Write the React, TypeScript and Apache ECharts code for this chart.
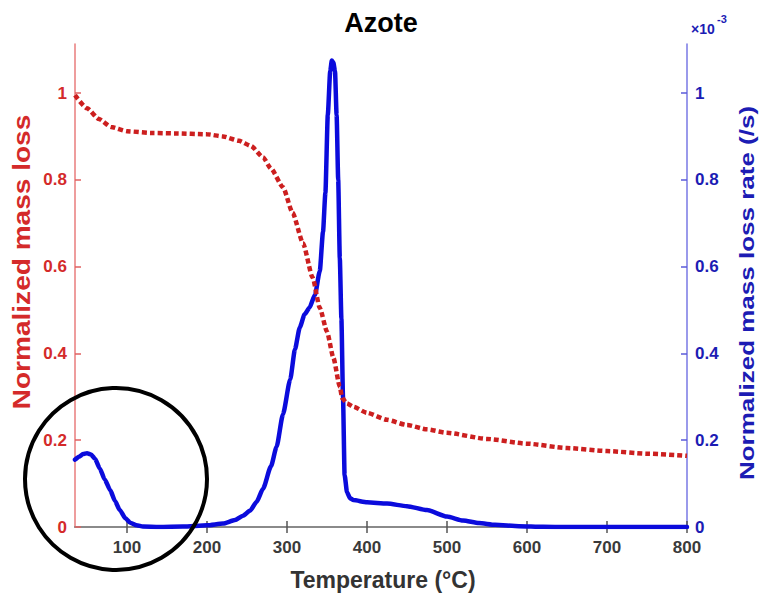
import React, { useEffect, useRef } from "react";
import * as echarts from "echarts";

const xTicks = [100, 200, 300, 400, 500, 600, 700, 800];
const yTicks = [0, 0.2, 0.4, 0.6, 0.8, 1];

const massLossTemp = [35, 50, 65, 80, 100, 130, 160, 200, 220, 240, 255, 270, 280, 295, 307, 320, 332, 341, 350, 358, 366, 369, 375, 383, 400, 425, 450, 475, 500, 550, 600, 650, 700, 750, 800];
const massLoss = [0.995, 0.965, 0.94, 0.922, 0.912, 0.908, 0.907, 0.905, 0.9, 0.89, 0.878, 0.852, 0.826, 0.783, 0.724, 0.654, 0.575, 0.505, 0.45, 0.39, 0.323, 0.297, 0.285, 0.277, 0.263, 0.247, 0.235, 0.225, 0.217, 0.203, 0.192, 0.182, 0.175, 0.169, 0.164];

const rateTemp = [35, 40, 45, 50, 55, 60, 66, 72, 79, 85, 91, 98, 104, 112, 120, 140, 170, 200, 220, 235, 245, 254, 262, 270, 280, 287, 295, 304, 310, 316, 322, 328, 335, 341, 345, 348, 351, 354, 356, 358, 360, 362, 364, 366, 368, 370, 372, 375, 379, 383, 400, 425, 450, 475, 500, 520, 540, 560, 590, 620, 650, 700, 750, 800];
const rate = [0.155, 0.162, 0.168, 0.17, 0.167, 0.157, 0.135, 0.11, 0.085, 0.06, 0.039, 0.02, 0.01, 0.004, 0.001, 0, 0.001, 0.004, 0.008, 0.016, 0.026, 0.038, 0.058, 0.088, 0.14, 0.185, 0.26, 0.34, 0.41, 0.46, 0.49, 0.505, 0.535, 0.59, 0.68, 0.77, 0.95, 1.05, 1.075, 1.07, 1.05, 0.95, 0.8, 0.62, 0.48, 0.3, 0.12, 0.08, 0.066, 0.062, 0.057, 0.054, 0.048, 0.039, 0.024, 0.015, 0.009, 0.005, 0.002, 0.0005, 0, 0, 0, 0];

const FONT = "'Liberation Sans', Arial, Helvetica, sans-serif";
const RED = "#d42a2a";
const RED_LINE = "#cc1f1f";
const BLUE = "#1c1cb4";
const BLUE_LINE = "#0b0bdc";
const GRAY = "#8a8a8a";
const YMAX = 1.113;

export default function App() {
  const ref = useRef<HTMLDivElement>(null);
  useEffect(() => {
    if (!ref.current) return;
    const chart = echarts.init(ref.current, null, { renderer: "svg" });
    const fmt = (v: number) => String(+Number(v).toFixed(1));
    chart.setOption({
      animation: false,
      backgroundColor: "#ffffff",
      grid: { left: 75, right: 72, top: 44, bottom: 66, containLabel: false },
      xAxis: [
        {
          type: "value",
          min: 35,
          max: 800,
          position: "bottom",
          axisLine: { show: true, lineStyle: { color: GRAY, width: 1.5 } },
          axisTick: { show: true, inside: true, length: 6, customValues: xTicks, lineStyle: { color: "#555", width: 1.5 } },
          axisLabel: { customValues: xTicks, margin: 12, color: "#3a3a3a", fontSize: 17, fontWeight: "bold", fontFamily: FONT },
          splitLine: { show: false },
        },
        {
          type: "value",
          min: 35,
          max: 800,
          position: "top",
          axisLine: { show: true, lineStyle: { color: GRAY, width: 2 } },
          axisTick: { show: true, inside: true, length: 6, customValues: xTicks, lineStyle: { color: "#555", width: 1.5 } },
          axisLabel: { show: false },
          splitLine: { show: false },
        },
      ],
      yAxis: [
        {
          type: "value",
          min: 0,
          max: YMAX,
          position: "left",
          axisLine: { show: true, lineStyle: { color: "#e87c7c", width: 1.5 } },
          axisTick: { show: true, inside: true, length: 6, customValues: yTicks, lineStyle: { color: "#e06060", width: 1.5 } },
          axisLabel: { customValues: yTicks, formatter: fmt, margin: 8, color: RED, fontSize: 17, fontWeight: "bold", fontFamily: FONT },
          splitLine: { show: false },
        },
        {
          type: "value",
          min: 0,
          max: YMAX,
          position: "right",
          axisLine: { show: true, lineStyle: { color: "#7878e4", width: 1.5 } },
          axisTick: { show: true, inside: true, length: 6, customValues: yTicks, lineStyle: { color: "#5a5ad8", width: 1.5 } },
          axisLabel: { customValues: yTicks, formatter: fmt, margin: 8, color: BLUE, fontSize: 17, fontWeight: "bold", fontFamily: FONT },
          splitLine: { show: false },
        },
      ],
      series: [
        {
          type: "line",
          name: "Normalized mass loss rate",
          xAxisIndex: 0,
          yAxisIndex: 1,
          data: rateTemp.map((t, i) => [t, rate[i]]),
          showSymbol: false,
          symbol: "none",
          smooth: 0.2,
          smoothMonotone: "x",
          lineStyle: { color: BLUE_LINE, width: 4.5, cap: "round", join: "round" },
          z: 2,
        },
        {
          type: "line",
          name: "Normalized mass loss",
          xAxisIndex: 0,
          yAxisIndex: 0,
          data: massLossTemp.map((t, i) => [t, massLoss[i]]),
          showSymbol: false,
          symbol: "none",
          smooth: 0.2,
          smoothMonotone: "x",
          lineStyle: { color: RED_LINE, width: 4.5, type: [5, 3] },
          z: 3,
        },
      ],
      graphic: [
        {
          type: "text",
          x: 381,
          y: 23,
          z: 10,
          style: { text: "Azote", fontSize: 27, fontWeight: "bold", fontFamily: FONT, fill: "#000", textAlign: "center", textVerticalAlign: "middle", align: "center", verticalAlign: "middle" },
        },
        {
          type: "text",
          x: 383,
          y: 580,
          z: 10,
          style: { text: "Temperature (°C)", fontSize: 23, fontWeight: "bold", fontFamily: FONT, fill: "#333", textAlign: "center", textVerticalAlign: "middle", align: "center", verticalAlign: "middle" },
        },
        {
          type: "text",
          x: 22,
          y: 262,
          rotation: Math.PI / 2,
          scaleX: 1.22,
          z: 10,
          style: { text: "Normalized mass loss", fontSize: 23, fontWeight: "bold", fontFamily: FONT, fill: RED, textAlign: "center", textVerticalAlign: "middle", align: "center", verticalAlign: "middle" },
        },
        {
          type: "text",
          x: 747,
          y: 293,
          rotation: Math.PI / 2,
          scaleX: 1.3,
          z: 10,
          style: { text: "Normalized mass loss rate (/s)", fontSize: 20, fontWeight: "bold", fontFamily: FONT, fill: BLUE, textAlign: "center", textVerticalAlign: "middle", align: "center", verticalAlign: "middle" },
        },
        {
          type: "text",
          x: 691,
          y: 29,
          z: 10,
          style: { text: "×10", fontSize: 14, fontWeight: "bold", fontFamily: FONT, fill: BLUE, textAlign: "left", textVerticalAlign: "middle", align: "left", verticalAlign: "middle" },
        },
        {
          type: "text",
          x: 717,
          y: 19,
          z: 10,
          style: { text: "-3", fontSize: 11, fontWeight: "bold", fontFamily: FONT, fill: BLUE, textAlign: "left", textVerticalAlign: "middle", align: "left", verticalAlign: "middle" },
        },
        {
          type: "circle",
          shape: { cx: 116, cy: 479, r: 91 },
          z: 20,
          style: { fill: "none", stroke: "#000", lineWidth: 4 },
        },
      ],
    });
    return () => chart.dispose();
  }, []);
  return <div ref={ref} style={{ position: "fixed", left: 0, top: 0, width: 759, height: 593 }} />;
}
